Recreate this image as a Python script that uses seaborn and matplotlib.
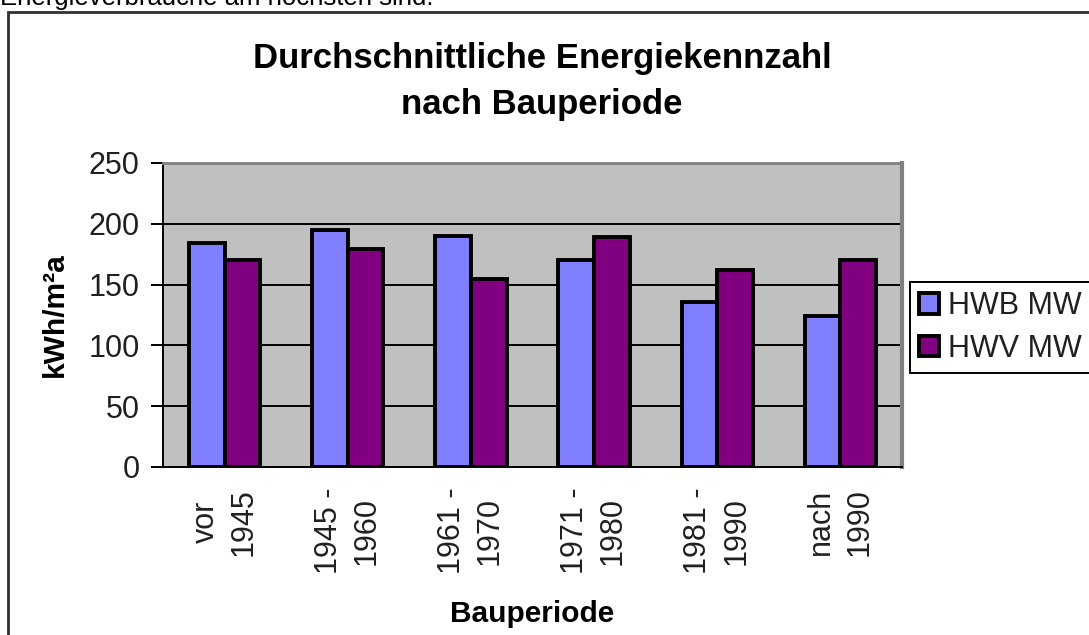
import matplotlib
matplotlib.use("Agg")
import matplotlib.pyplot as plt
import seaborn as sns
import pandas as pd
from matplotlib.patches import Rectangle

categories = ["vor\n1945", "1945 -\n1960", "1961 -\n1970", "1971 -\n1980", "1981 -\n1990", "nach\n1990"]
series_names = ["HWB MW", "HWV MW"]
hwb_values = [184, 195, 190, 170, 136, 124]
hwv_values = [170, 179, 155, 189, 162, 170]
y_ticks = [0, 50, 100, 150, 200, 250]

df = pd.DataFrame({
    "Bauperiode": categories * 2,
    "Serie": [series_names[0]] * len(categories) + [series_names[1]] * len(categories),
    "Wert": hwb_values + hwv_values,
})

sns.set_style("white")
plt.rcParams["font.family"] = ["Liberation Sans", "DejaVu Sans"]
plt.rcParams["text.color"] = "black"
plt.rcParams["axes.labelcolor"] = "black"
plt.rcParams["xtick.color"] = "black"
plt.rcParams["ytick.color"] = "black"

W, H = 1089, 635
fig = plt.figure(figsize=(W / 100, H / 100), dpi=100)
fig.patch.set_facecolor("white")

ax = fig.add_axes([163 / W, 1 - 467 / H, (902 - 163) / W, (467 - 163) / H])
ax.set_facecolor("#C0C0C0")

sns.barplot(data=df, x="Bauperiode", y="Wert", hue="Serie", order=categories,
            hue_order=series_names, palette=["#8080FF", "#800080"],
            width=0.58, edgecolor="black", linewidth=2.8, saturation=1,
            ax=ax, zorder=3)

ax.set_ylim(0, 250)
ax.set_xlim(-0.5, len(categories) - 0.5)
ax.set_yticks(y_ticks)
ax.set_yticklabels([str(v) for v in y_ticks], fontsize=22, color="#202020")
ax.yaxis.grid(True, color="black", linewidth=1.4, zorder=1)
ax.set_axisbelow(True)

ax.set_xticks(range(len(categories)))
ax.set_xticklabels(categories, rotation=90, ha="center", va="top",
                   multialignment="center", fontsize=22, linespacing=1.35,
                   color="#202020")
ax.tick_params(axis="x", which="major", length=0, pad=15)
ax.set_xticks([i - 0.5 for i in range(len(categories) + 1)], minor=True)
ax.tick_params(axis="x", which="minor", length=8, width=1.4, color="black", direction="out")
ax.tick_params(axis="y", length=9, width=1.4, color="black", direction="out", pad=8, left=True)

for s in ["left", "bottom"]:
    ax.spines[s].set_color("black")
    ax.spines[s].set_linewidth(1.4)
ax.spines["top"].set_color("#808080")
ax.spines["top"].set_linewidth(2.0)
ax.spines["right"].set_color("#808080")
ax.spines["right"].set_linewidth(3.0)

ax.set_xlabel("Bauperiode", fontsize=21.5, fontweight="bold", color="black")
ax.xaxis.set_label_coords(0.5, -(614 - 467) / 304)
ax.xaxis.label.set_va("center")
ax.set_ylabel("kWh/m²a", fontsize=21.5, fontweight="bold", color="black")
ax.yaxis.set_label_coords((55 - 163) / 739, 0.5)
ax.yaxis.label.set_va("center")

fig.text(542 / W, 1 - 68 / H, "Durchschnittliche Energiekennzahl",
         ha="center", va="baseline", fontsize=25, fontweight="bold", color="black")
fig.text(542 / W, 1 - 114 / H, "nach Bauperiode",
         ha="center", va="baseline", fontsize=25, fontweight="bold", color="black")

fig.text(0.0, 1 - 5 / H, "Energieverbräuche am höchsten sind.", ha="left",
         va="baseline", fontsize=18.5, color="black")

fig.patches.append(Rectangle((8 / W, -0.05), 1.2, 1.05 - 12 / H, transform=fig.transFigure,
                             fill=False, edgecolor="#303030", linewidth=2.0))

leg = ax.legend(loc="upper left", bbox_to_anchor=(910 / W, 1 - 282 / H),
                bbox_transform=fig.transFigure, fontsize=22, frameon=True,
                fancybox=False, edgecolor="black", framealpha=1,
                handlelength=0.65, handleheight=0.65, handletextpad=0.3,
                borderpad=0.3, labelspacing=0.42, borderaxespad=0)
leg.get_frame().set_linewidth(1.4)
for t in leg.get_texts():
    t.set_color("#202020")
leg.set_title(None)

fig.savefig("out.png", dpi=100)
